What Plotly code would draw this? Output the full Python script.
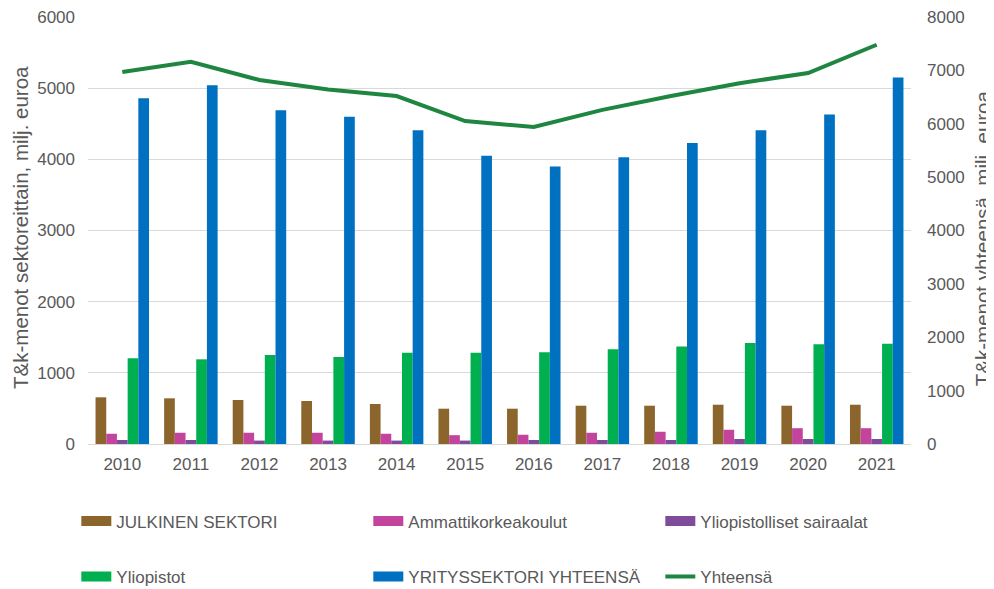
import plotly.graph_objects as go

years = ["2010","2011","2012","2013","2014","2015","2016","2017","2018","2019","2020","2021"]
julkinen = [656, 642, 618, 604, 562, 496, 496, 538, 538, 552, 538, 552]
amk = [144, 158, 158, 158, 144, 124, 130, 158, 172, 200, 222, 222]
sairaalat = [56, 56, 48, 48, 48, 48, 56, 56, 56, 70, 70, 70]
yliopistot = [1204, 1190, 1250, 1222, 1282, 1282, 1290, 1330, 1370, 1420, 1400, 1410]
yritys = [4860, 5040, 4690, 4600, 4410, 4050, 3900, 4030, 4230, 4410, 4630, 5150]
yhteensa = [6970, 7160, 6820, 6640, 6520, 6050, 5940, 6260, 6520, 6760, 6950, 7480]

title_left = "T&k-menot sektoreittain, milj. euroa"
title_right = "T&k-menot yhteensä, milj. euroa"

FONT = "Liberation Sans, Arial, sans-serif"
GREY = "#595959"

fig = go.Figure()
bars = [
    ("JULKINEN SEKTORI", julkinen, "#8B652C", "legend"),
    ("Ammattikorkeakoulut", amk, "#C2449C", "legend"),
    ("Yliopistolliset sairaalat", sairaalat, "#7E4C9A", "legend"),
    ("Yliopistot", yliopistot, "#00B050", "legend2"),
    ("YRITYSSEKTORI YHTEENSÄ", yritys, "#0070C0", "legend2"),
]
for name, vals, col, lg in bars:
    fig.add_trace(go.Bar(x=years, y=vals, name=name, marker_color=col,
                         marker_line_width=0, showlegend=False, legendgroup=name))
fig.add_trace(go.Scatter(x=years, y=yhteensa, name="Yhteensä", mode="lines",
                         line=dict(color="#1E8640", width=4), yaxis="y2",
                         showlegend=False, legendgroup="Yhteensä"))

# legend keys (rectangular swatches like the original)
for name, vals, col, lg in bars:
    fig.add_trace(go.Scatter(x=[None], y=[None], name=name, mode="lines",
                             line=dict(color=col, width=10), legend=lg,
                             legendgroup=name, hoverinfo="skip"))
fig.add_trace(go.Scatter(x=[None], y=[None], name="Yhteensä", mode="lines",
                         line=dict(color="#1E8640", width=4), legend="legend2",
                         legendgroup="Yhteensä", hoverinfo="skip"))

legend_common = dict(orientation="h", xanchor="left", yanchor="middle",
                     xref="paper", yref="paper",
                     font=dict(family=FONT, size=17, color=GREY),
                     entrywidth=247, entrywidthmode="pixels",
                     bgcolor="rgba(0,0,0,0)", traceorder="normal")

fig.update_layout(
    width=994, height=589,
    margin=dict(l=80, r=91, t=9, b=153, autoexpand=False),
    paper_bgcolor="white", plot_bgcolor="white",
    barmode="group", bargap=0.22, bargroupgap=0,
    font=dict(family=FONT, size=17, color=GREY),
    showlegend=True,
    legend=dict(x=-0.0142, y=-0.1815, **legend_common),
    legend2=dict(x=-0.0142, y=-0.3115, **legend_common),
    xaxis=dict(type="category", showgrid=False, showline=True, linecolor="#D9D9D9",
               linewidth=1, ticks="", ticklabelstandoff=5, automargin=False,
               ticklabeloverflow="allow", tickfont=dict(size=17, color=GREY)),
    yaxis=dict(range=[0, 6000], dtick=1000, showgrid=True, gridcolor="#D9D9D9",
               zeroline=False, ticks="", ticklabelstandoff=12, automargin=False,
               ticklabeloverflow="allow", tickfont=dict(size=17, color=GREY)),
    yaxis2=dict(range=[0, 8000], dtick=1000, overlaying="y", side="right",
                showgrid=False, zeroline=False, ticks="", ticklabelstandoff=15,
                automargin=False, ticklabeloverflow="allow",
                tickfont=dict(size=17, color=GREY)),
    annotations=[
        dict(text=title_left, textangle=-90, xref="paper", yref="paper",
             x=(13 - 80) / 823, y=0.506, xanchor="center", yanchor="middle",
             showarrow=False, font=dict(size=20.5, color=GREY)),
        dict(text=title_right, textangle=-90, xref="paper", yref="paper",
             x=(974 - 80) / 823, y=0.482, xanchor="center", yanchor="middle",
             showarrow=False, font=dict(size=20.5, color=GREY)),
    ],
)
fig.write_html("out.html")
